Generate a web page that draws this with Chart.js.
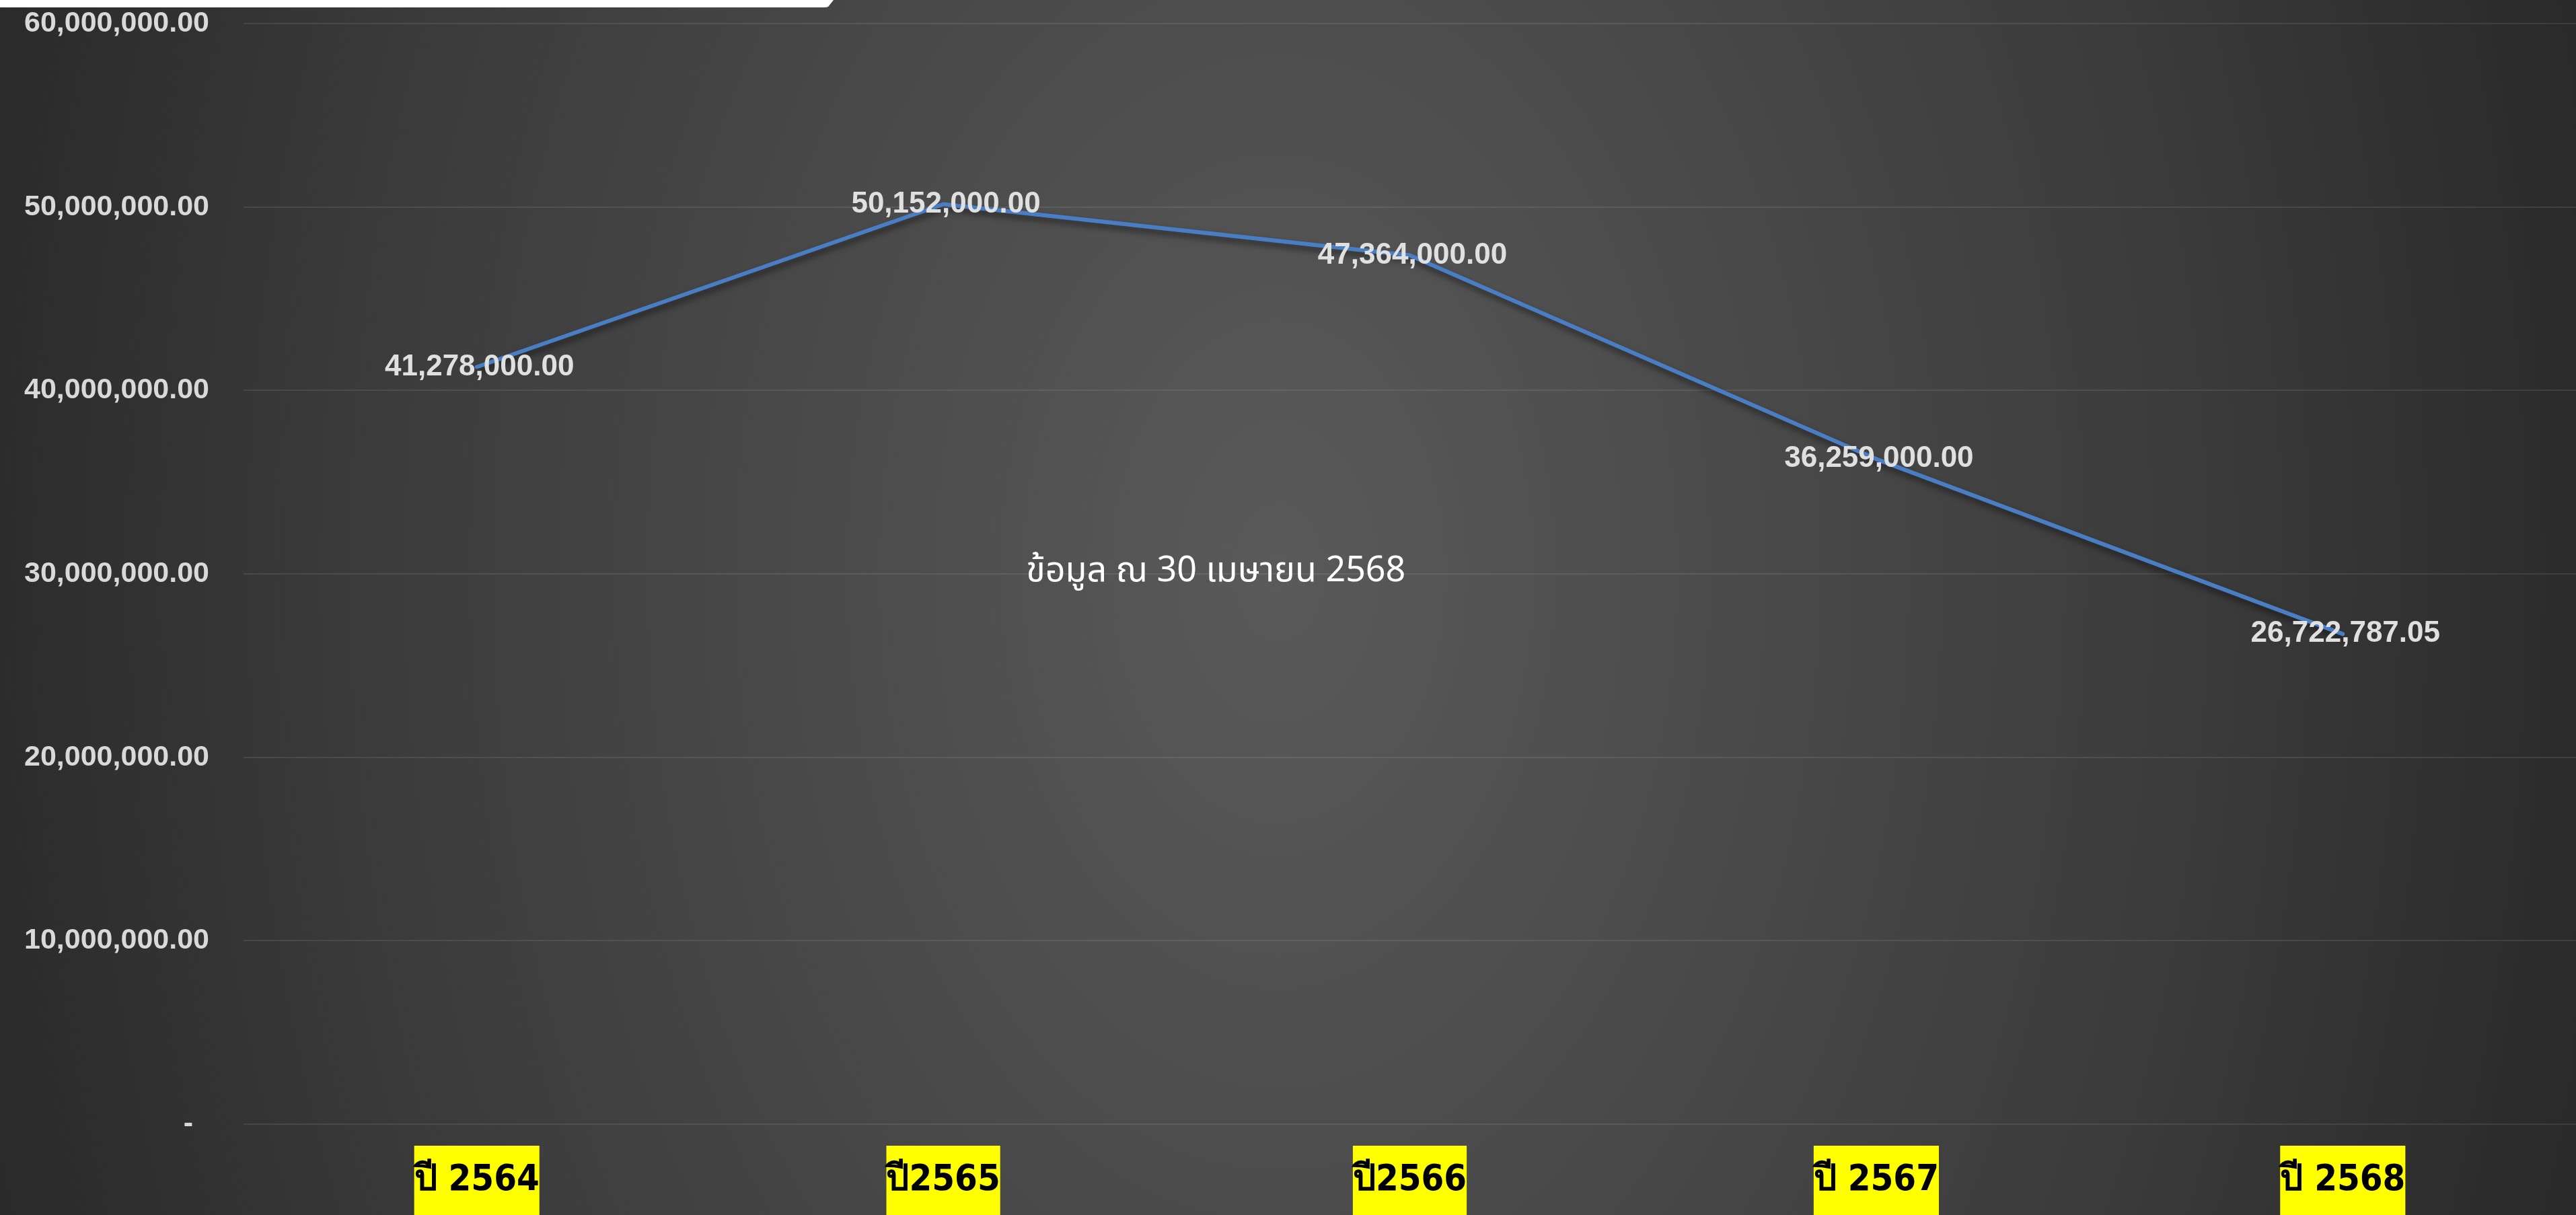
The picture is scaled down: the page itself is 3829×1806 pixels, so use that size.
<!DOCTYPE html>
<html><head><meta charset="utf-8">
<script src="https://cdn.jsdelivr.net/npm/chart.js@4.4.1/dist/chart.umd.min.js"></script>
<style>
html,body{margin:0;padding:0;background:#2a2a2a;overflow:hidden}
#wrap{width:3829px;height:1806px;position:relative}
</style>
</head><body>
<div id="wrap"><canvas id="c"></canvas></div>
<script>
// ---- data ----
const categories = ['ปี 2564', 'ปี2565', 'ปี2566', 'ปี 2567', 'ปี 2568'];
const budgetValues = [41278000, 50152000, 47364000, 36259000, 26722787.05];
const yTickValues = [0, 10000000, 20000000, 30000000, 40000000, 50000000, 60000000];
const noteText = 'ข้อมูล ณ 30 เมษายน 2568';

const fmt = v => v.toLocaleString('en-US', {minimumFractionDigits: 2, maximumFractionDigits: 2});

const bgPlugin = {
  id: 'bg',
  beforeDraw(chart) {
    const ctx = chart.ctx, w = chart.width, h = chart.height;
    ctx.save();
    const s = 1.5;
    ctx.setTransform(1, 0, 0, s, 0, 0);
    const g = ctx.createRadialGradient(1900, 850 / s, 0, 1900, 850 / s, 2000);
    g.addColorStop(0, '#5a5a5a');
    g.addColorStop(0.35, '#4a4a4a');
    g.addColorStop(0.7, '#3a3a3a');
    g.addColorStop(0.95, '#2c2c2c');
    g.addColorStop(1, '#2a2a2a');
    ctx.fillStyle = g;
    ctx.fillRect(0, 0, w, h / s);
    ctx.restore();
  },
  afterDraw(chart) {
    const ctx = chart.ctx;
    ctx.save();
    ctx.fillStyle = '#ffffff';
    ctx.beginPath();
    ctx.moveTo(0, 0);
    ctx.lineTo(1239, 0);
    ctx.lineTo(1231, 10);
    ctx.quadraticCurveTo(1229, 11, 1225, 11);
    ctx.lineTo(0, 11);
    ctx.closePath();
    ctx.fill();
    ctx.restore();
  }
};

const shadowPlugin = {
  id: 'lineShadow',
  beforeDatasetDraw(chart) {
    const ctx = chart.ctx;
    ctx.save();
    ctx.shadowColor = 'rgba(0,0,0,0.55)';
    ctx.shadowBlur = 10;
    ctx.shadowOffsetX = 2;
    ctx.shadowOffsetY = 6;
  },
  afterDatasetDraw(chart) {
    chart.ctx.restore();
  }
};

const labelPlugin = {
  id: 'valueLabels',
  afterDatasetsDraw(chart) {
    const ctx = chart.ctx;
    const meta = chart.getDatasetMeta(0);
    const yScale = chart.scales.y;
    ctx.save();
    // note text
    ctx.font = '52px "Noto Sans Thai", "Noto Sans", "Open Sans", sans-serif';
    ctx.fillStyle = '#ffffff';
    ctx.textAlign = 'center';
    ctx.textBaseline = 'middle';
    ctx.fillText(noteText, chart.width * 0.472, yScale.getPixelForValue(30000000));
    // value labels
    ctx.font = 'bold 44px "Liberation Sans", Arial, sans-serif';
    ctx.fillStyle = '#e0e0e0';
    meta.data.forEach((pt, i) => {
      ctx.fillText(fmt(budgetValues[i]), pt.x + 4, pt.y);
    });
    ctx.restore();
  }
};

new Chart(document.getElementById('c'), {
  type: 'line',
  data: {
    labels: categories,
    datasets: [{
      data: budgetValues,
      borderColor: '#4a7ec4',
      borderWidth: 6,
      pointRadius: 0,
      pointHoverRadius: 0,
      tension: 0,
      fill: false,
      borderCapStyle: 'round',
      borderJoinStyle: 'round'
    }]
  },
  options: {
    responsive: true,
    maintainAspectRatio: false,
    animation: false,
    layout: {padding: {top: 35, right: 0, left: 0, bottom: 0}},
    plugins: {legend: {display: false}, tooltip: {enabled: false}, title: {display: false}},
    scales: {
      x: {
        offset: true,
        grid: {display: false, drawTicks: false},
        border: {display: false},
        ticks: {
          color: '#000000',
          font: {family: '"DejaVu Sans Condensed", "DejaVu Sans", sans-serif', weight: 'bold', size: 54},
          padding: 52,
          maxRotation: 0,
          autoSkip: false,
          showLabelBackdrop: true,
          backdropColor: '#ffff00',
          backdropPadding: {top: 20, bottom: 20, left: 0, right: 0}
        },
        afterFit(scale) { scale.height = 135; scale.paddingLeft = 0; scale.paddingRight = 0; }
      },
      y: {
        min: 0,
        max: 60000000,
        grid: {color: 'rgba(255,255,255,0.09)', lineWidth: 2, drawTicks: false},
        border: {display: false},
        afterBuildTicks(scale) { scale.ticks = yTickValues.map(v => ({value: v})); },
        ticks: {
          color: '#d9d9d9',
          font: {family: '"Liberation Sans", Arial, sans-serif', weight: 'bold', size: 43},
          padding: 51,
          callback: v => v === 0 ? '-  ' : fmt(v)
        },
        afterFit(scale) { scale.width = 362; scale.paddingTop = 0; scale.paddingBottom = 0; }
      }
    }
  },
  plugins: [bgPlugin, shadowPlugin, labelPlugin]
});
</script>
</body></html>
